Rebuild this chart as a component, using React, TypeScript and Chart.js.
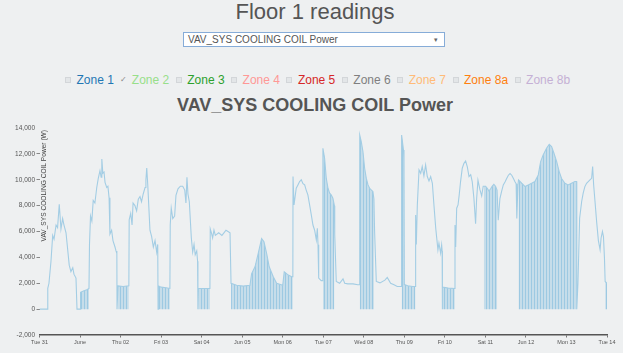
import { useEffect, useRef } from 'react';
import { Chart, registerables } from 'chart.js';

Chart.register(...registerables);

const FONT = '"Liberation Sans", Arial, Helvetica, sans-serif';

const pageTitle = 'Floor 1 readings';
const selectedMetric = 'VAV_SYS COOLING COIL Power';
const yAxisTitle = 'VAV_SYS COOLING COIL Power (W)';

const zoneNames = ['Zone 1', 'Zone 2', 'Zone 3', 'Zone 4', 'Zone 5', 'Zone 6', 'Zone 7', 'Zone 8a', 'Zone 8b'];
const zoneColors = ['#1f77b4', '#98df8a', '#2ca02c', '#ff9896', '#d62728', '#7f7f7f', '#ffbb78', '#ff7f0e', '#c5b0d5'];
const zoneChecked = [false, true, false, false, false, false, false, false, false];

// x axis: hours since Tue 31 00:00, one label per day
const dayLabels = ['Tue 31', 'June', 'Thu 02', 'Fri 03', 'Sat 04', 'Jun 05', 'Mon 06', 'Tue 07', 'Wed 08', 'Thu 09', 'Fri 10', 'Sat 11', 'Jun 12', 'Mon 13', 'Tue 14'];
const yMin = -2000;
const yMax = 14000;
const yStep = 2000;

// continuous (non-cycling) stretches of the trace
const lineHours = [
  0, 4.7, 4.9, 5.6, 6.8, 7.8, 8.6, 9.8, 10.7, 11.7, 12.7, 13.7, 14.5, 15.7, 17.6, 18.6, 19.7, 20.4, 21.6, 22.2, 24.2,
  29.6, 30.2, 31, 31.8, 32.8, 33.9, 34.8, 35.8, 36.5, 36.9, 37.5, 38.2, 38.8, 39.8, 40.5, 41.2, 41.7, 42.7, 43.5, 44.7, 45.3, 45.8, 45.9, 46.4,
  53.1, 54, 54.8, 55.4, 56.5, 57.5, 58.5, 59.5, 60.4, 61.4, 62.5, 63.0, 63.5, 64.1, 65.4, 66.4, 67.4, 68.4, 69.4, 70.0, 70.2,
  77.4, 78.0, 78.9, 80.0, 80.8, 82.0, 83.4, 84.8, 86.0, 86.7, 87.3, 87.9, 88.7, 89.9, 90.7, 91.5, 92.2, 93.1, 93.6, 93.8,
  101.1, 101.8, 102.5, 103.3, 104.1, 106.1, 108.0, 109.2, 110.4, 111.6, 112.8,
  150.1, 150.7, 152.0, 153.0, 154.0, 155.0, 156.0, 157.0, 157.9, 158.9, 160.0, 160.9, 161.9, 162.9, 163.9, 164.5, 164.9, 165.3, 166.8, 167.7,
  174.8, 175.7, 177.7, 179.7, 180.7, 182.6, 185.6, 188.5, 189.4,
  198.4, 199.4, 201.6, 204.5, 205.9, 207.9, 209.9, 211.8, 214.2,
  222.7, 223.1, 223.7, 224.7, 225.7, 226.6, 227.6, 228.6, 229.6, 230.6, 231.6, 232.6, 233.6, 234.6, 235.2, 235.9, 236.5, 237.5, 238.1, 238.4, 238.5,
  246.0, 246.4, 247.0, 247.8, 248.5, 249.3, 250.3, 251.3, 252.3, 253.3, 254.3, 255.3, 256.2, 257.2, 258.2, 258.8, 259.6, 260.8, 261.8, 262.7,
  271.6, 272.6, 273.6, 274.6, 275.6, 276.6, 277.6, 278.6, 279.6, 280.6, 281.6, 282.2, 282.6, 283.3,
  318.1, 318.8, 319.8, 321.0, 321.9, 322.9, 323.9, 324.9, 325.9, 326.9, 327.5, 328.1, 328.9, 329.9, 330.9, 331.9, 332.5, 333.3, 333.9, 334.5,
];
const lineWatts = [
  0, 0, 1600, 2000, 3700, 5700, 5400, 6500, 6300, 8100, 6200, 7000, 6500, 5900, 3400, 2900, 3200, 2700, 2400, 0, 0,
  5000, 7200, 6800, 8400, 8200, 9400, 10100, 10700, 10200, 11600, 10500, 10600, 9800, 9400, 9500, 8600, 5800, 6100, 5300, 4800, 4500, 4300, 0, 0,
  6900, 7400, 6500, 8200, 8000, 7600, 8500, 8700, 8300, 8900, 9400, 10000, 10900, 9600, 6100, 5600, 4800, 5300, 4400, 5000, 0,
  6500, 7800, 7000, 7200, 8800, 9300, 9500, 9500, 9200, 8200, 10200, 8900, 8300, 5500, 4400, 5000, 4200, 4500, 3700, 0,
  6200, 5900, 5500, 6100, 5700, 5900, 5700, 5900, 6100, 6000, 5900,
  10250, 8050, 9340, 9600, 9860, 10000, 9700, 9600, 9200, 8830, 8000, 7300, 6500, 6100, 5350, 6250, 4970, 2400, 2200, 2200,
  5740, 2140, 2000, 2340, 2000, 1950, 1950, 1880, 1880,
  6000, 2140, 2030, 2240, 2450, 2000, 1880, 1750, 1750,
  7280, 5000, 8050, 10760, 10500, 11020, 10300, 11150, 10250, 9900, 10250, 9730, 7930, 6250, 5480, 4580, 5100, 4320, 4970, 4500, 0,
  6510, 4800, 7800, 8050, 8830, 9860, 10890, 11270, 11450, 11000, 10250, 10400, 9860, 8570, 6600, 8500, 9960, 9210, 8750, 9500,
  6870, 8550, 9100, 9600, 9830, 10100, 10350, 10480, 10350, 10090, 9830, 9700, 7000, 9600,
  0, 2000, 7030, 8320, 8960, 9470, 9730, 9860, 9990, 10110, 11020, 9600, 8320, 6700, 5300, 4600, 5500, 6000, 5610, 3940,
];

// stretches where the coil cycles on/off (envelope of the rapid switching), null separates stretches
const cycleHours = [
  24.3, 26, 28, 29.3, null,
  46.5, 49.5, 52.9, null,
  70.4, 72, 75, 77.2, null,
  94.1, 97, 100.9, null,
  113.4, 116.7, 120.6, 124.6, 125.6, 127.6, 129.5, 131.5, 132.9, 134.5, 136.0, 138.4, 140.4, 144.0, 144.9, 147.3, 149.3, 150.0, null,
  167.8, 168.8, 169.8, 170.8, 171.8, 172.7, 173.7, 174.6, null,
  189.6, 190.5, 191.5, 192.5, 193.5, 194.5, 195.5, 196.4, 197.4, 198.0, null,
  214.4, 215.5, 215.8, 216.0, 218, 221, 222.6, null,
  238.6, 242, 245.9, null,
  263.1, 264.1, 265.1, 266.1, 267.1, 268.0, 269.0, 270.0, 270.9, null,
  283.6, 285.5, 287.5, 289.4, 291.4, 293.3, 295.3, 296.7, 298.2, 300.2, 301.8, 303.2, 304.6, 306.2, 307.7, 309.1, 311.1, 313.0, 315.0, 317.0, 318.0, null,
  334.9, 336,
];
const cycleWatts = [
  1300, 1400, 1500, 1600, null,
  1800, 1750, 1800, null,
  1800, 1700, 1650, 1600, null,
  1600, 1600, 1600, null,
  2000, 1850, 1780, 1850, 2750, 3270, 4300, 5460, 5200, 4300, 3270, 2500, 2000, 1850, 2880, 2630, 2500, 2500, null,
  12430, 11660, 10100, 9340, 8960, 8830, 8570, 8000, null,
  13460, 12950, 12180, 10890, 10100, 9600, 9340, 9210, 9090, 8500, null,
  13460, 12300, 11500, 1900, 1800, 1750, 1750, null,
  1700, 1620, 1600, null,
  9500, 9500, 9340, 9130, 9300, 9500, 9650, 9500, 9200, null,
  9990, 9730, 9470, 9600, 9730, 9860, 10370, 11400, 11910, 12430, 12740, 12560, 12050, 11400, 10630, 10100, 9730, 9600, 9730, 9860, 9860, null,
  2140, 2000,
];

const LINE_COLOR = '#a3cde4';

export default function App() {
  const ref = useRef<HTMLCanvasElement>(null);

  useEffect(() => {
    const canvas = ref.current;
    if (!canvas) return;
    const ctx = canvas.getContext('2d');
    if (!ctx) return;

    const pc = document.createElement('canvas');
    pc.width = 3;
    pc.height = 1;
    const pctx = pc.getContext('2d')!;
    pctx.fillStyle = 'rgba(165,205,228,0.55)';
    pctx.fillRect(0, 0, 3, 1);
    pctx.fillStyle = 'rgba(150,198,225,0.85)';
    pctx.fillRect(0, 0, 1, 1);
    const stripes = ctx.createPattern(pc, 'repeat') || 'rgba(160,202,226,0.65)';

    const linePts = lineHours.map((h, i) => ({ x: h, y: lineWatts[i] }));
    const cycPts: { x: number; y: number | null }[] = [];
    cycleHours.forEach((h, i) => {
      if (h === null) {
        cycPts.push({ x: cycleHours[i - 1] as number, y: null });
      } else {
        cycPts.push({ x: h, y: cycleWatts[i] as number });
      }
    });
    const allPts = linePts
      .concat(cycPts.filter((p) => p.y !== null) as { x: number; y: number }[])
      .sort((a, b) => a.x - b.x);

    const axisTitle = {
      id: 'axisTitle',
      afterDraw(chart: any) {
        const { ctx: c, chartArea } = chart;
        c.save();
        c.translate(chartArea.left + 5, chartArea.top + 2);
        c.rotate(-Math.PI / 2);
        c.font = `6.6px ${FONT}`;
        c.fillStyle = '#444';
        c.textAlign = 'right';
        c.textBaseline = 'middle';
        c.fillText(yAxisTitle, 0, 0);
        c.restore();
      },
    };

    const chart = new Chart(ctx, {
      type: 'line',
      data: {
        datasets: [
          {
            data: allPts,
            borderColor: LINE_COLOR,
            borderWidth: 1.1,
            pointRadius: 0,
            tension: 0,
            fill: false,
          },
          {
            data: cycPts,
            borderWidth: 0,
            borderColor: 'rgba(0,0,0,0)',
            backgroundColor: stripes as any,
            pointRadius: 0,
            tension: 0,
            spanGaps: false,
            fill: 'origin',
          },
        ],
      },
      options: {
        animation: false,
        responsive: false,
        layout: { padding: { left: 0, right: 16, top: 10, bottom: 0 } },
        plugins: {
          legend: { display: false },
          tooltip: { enabled: false },
          title: { display: false },
        },
        scales: {
          x: {
            type: 'linear',
            min: 0,
            max: dayLabels.length * 24 - 24,
            afterFit: (s: any) => {
              s.height = 18;
              s.paddingLeft = 0;
              s.paddingRight = 0;
            },
            ticks: {
              stepSize: 24,
              autoSkip: false,
              maxRotation: 0,
              padding: 2,
              color: '#555',
              font: { size: 5.5, family: FONT },
              callback: (v: any) => dayLabels[Math.round(Number(v) / 24)] ?? '',
            },
            grid: { drawOnChartArea: false, drawTicks: true, tickLength: 2.5, color: '#777' },
            border: { display: true, color: '#555', width: 1.5 },
          },
          y: {
            type: 'linear',
            min: yMin,
            max: yMax,
            afterFit: (s: any) => {
              s.width = 39.5;
              s.paddingTop = 0;
              s.paddingBottom = 0;
            },
            ticks: {
              stepSize: yStep,
              padding: 1.5,
              color: '#555',
              font: { size: 6.5, family: FONT },
              callback: (v: any) => Number(v).toLocaleString('en-US'),
            },
            grid: {
              drawOnChartArea: false,
              drawTicks: true,
              tickLength: 3,
              color: (c: any) => (c.tick && (c.tick.value === yMax || c.tick.value === yMin) ? 'rgba(0,0,0,0)' : '#888'),
            },
            border: { display: false },
          },
        },
      },
      plugins: [axisTitle],
    });

    return () => chart.destroy();
  }, []);

  return (
    <div
      style={{
        position: 'fixed',
        left: 0,
        top: 0,
        width: 623,
        height: 353,
        background: '#eef0f1',
        fontFamily: FONT,
        overflow: 'hidden',
      }}
    >
      <div
        style={{
          position: 'absolute',
          left: 0,
          top: 1,
          width: 630,
          textAlign: 'center',
          fontSize: 22,
          lineHeight: '22px',
          color: '#555',
        }}
      >
        {pageTitle}
      </div>
      <div
        style={{
          position: 'absolute',
          left: 183,
          top: 32,
          width: 262,
          height: 15,
          boxSizing: 'border-box',
          border: '1px solid #86acd8',
          background: '#fff',
          fontSize: 10,
          lineHeight: '13px',
          color: '#555',
          paddingLeft: 4,
          whiteSpace: 'nowrap',
        }}
      >
        {selectedMetric}
        <span style={{ position: 'absolute', right: 6, top: 0, fontSize: 7, color: '#666' }}>▾</span>
      </div>
      <div
        style={{
          position: 'absolute',
          left: 65,
          top: 74,
          height: 12,
          display: 'flex',
          alignItems: 'center',
          whiteSpace: 'nowrap',
        }}
      >
        {zoneNames.map((z, i) => (
          <div key={z} style={{ display: 'flex', alignItems: 'center', marginRight: 6.5 }}>
            {zoneChecked[i] ? (
              <span
                style={{
                  width: 6,
                  height: 12,
                  marginRight: 5.5,
                  fontSize: 8,
                  lineHeight: '12px',
                  color: '#888',
                  display: 'inline-block',
                  textAlign: 'center',
                }}
              >
                ✓
              </span>
            ) : (
              <span
                style={{
                  width: 6,
                  height: 6,
                  marginRight: 5.5,
                  boxSizing: 'border-box',
                  border: '1px solid #d3d6d9',
                  background: '#e3e6e8',
                  display: 'inline-block',
                }}
              />
            )}
            <span style={{ fontSize: 12, lineHeight: '12px', color: zoneColors[i] }}>{z}</span>
          </div>
        ))}
      </div>
      <div
        style={{
          position: 'absolute',
          left: 0,
          top: 96,
          width: 630,
          textAlign: 'center',
          fontSize: 18,
          lineHeight: '18px',
          fontWeight: 'bold',
          color: '#555',
        }}
      >
        {selectedMetric}
      </div>
      <canvas
        ref={ref}
        width={623}
        height={235}
        style={{ position: 'absolute', left: 0, top: 118, width: 623, height: 235 }}
      />
    </div>
  );
}
